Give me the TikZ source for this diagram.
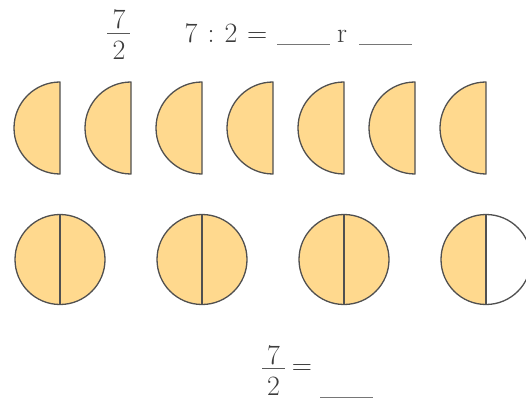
\documentclass[tikz,border=0pt]{standalone}
\usepackage{fontspec}
\setmainfont{Latin Modern Roman}
\usetikzlibrary{positioning}
\definecolor{piefill}{HTML}{FFD98E}
\definecolor{edge}{HTML}{505050}
\definecolor{ink}{HTML}{3C3C3C}
\tikzset{
  half/.style={fill=piefill,draw=edge,line width=1.3pt,line join=round},
  whole/.style={draw=edge,line width=1.3pt},
  blank/.style={draw=ink!70,line width=1.3pt},
  bar/.style={draw=ink!85,line width=1.1pt},
  txt/.style={text=ink,font=\fontsize{28}{32}\selectfont,inner sep=0pt,anchor=base}
}
\begin{document}
\begin{tikzpicture}[x=1pt,y=1pt]
  \useasboundingbox (0,0) rectangle (526,399);
  % seven halves
  \foreach \x in {60,131,202,273,344,415,486} {
    \draw[half] (\x,317) arc (90:270:46) -- cycle;
  }
  % three wholes and one half
  \foreach \x/\f in {60/piefill,202/piefill,344/piefill,486/white} {
    \fill[piefill] (\x,184.5) arc (90:270:45) -- cycle;
    \fill[\f] (\x,184.5) arc (90:-90:45) -- cycle;
    \draw[whole] (\x,139.5) circle (45);
    \draw[whole] (\x,184.5) -- (\x,94.5);
  }
  % top line
  \node[txt] (num) at (119,370) {7};
  \node[txt] (den) at (119,339) {2};
  \draw[bar] (107.3,365.7) -- (130,365.7);
  \node[txt,anchor=base west] (div) at (184.5,356.7) {7\hspace{.36em}:\hspace{.36em}2\hspace{.34em}=};
  \draw[blank] (277,354.7) -- (330,354.7);
  \node[txt,anchor=base west] (rest) at (337,356.7) {r};
  \draw[blank] (359,354.7) -- (412,354.7);
  % bottom line
  \node[txt] (numb) at (273.6,35) {7};
  \node[txt] (denb) at (273.6,4) {2};
  \draw[bar] (262.3,30.7) -- (285,30.7);
  \node[txt] (eq) at (302,25) {=};
  \draw[blank] (320,1.3) -- (373,1.3);
\end{tikzpicture}
\end{document}
